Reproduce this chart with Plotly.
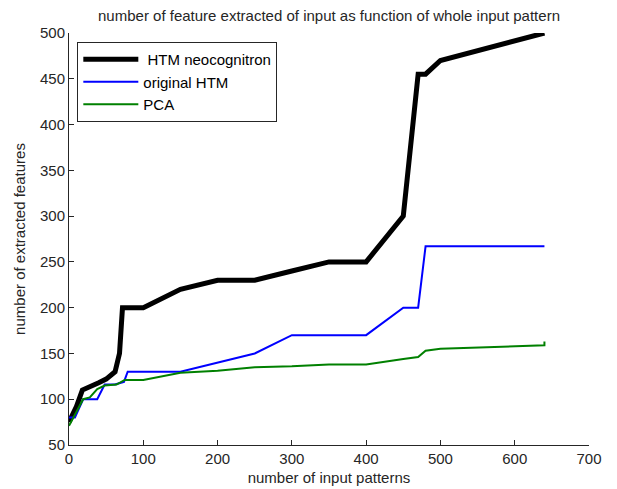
import plotly.graph_objects as go

htm_neo_x = [0, 10, 18, 28, 40, 50, 62, 68, 72, 100, 150, 200, 250, 300, 350, 400, 450, 470, 480, 500, 640]
htm_neo_y = [75, 92, 110, 113, 118, 122, 130, 150, 200, 200, 220, 230, 230, 240, 250, 250, 300, 455, 455, 470, 500]

orig_x = [0, 8, 19, 38, 48, 62, 74, 79, 150, 200, 250, 300, 400, 450, 470, 480, 640]
orig_y = [80, 80, 100, 100, 116, 116, 119, 130, 130, 140, 150, 170, 170, 200, 200, 267, 267]

pca_x = [0, 19, 28, 38, 48, 64, 75, 100, 150, 200, 250, 300, 350, 400, 450, 470, 480, 500, 640, 640]
pca_y = [71, 100, 102, 111, 115, 116, 121, 121, 129, 131, 135, 136, 138, 138, 144, 146, 153, 155, 159, 163]

x_ticks = [0, 100, 200, 300, 400, 500, 600, 700]
y_ticks = [50, 100, 150, 200, 250, 300, 350, 400, 450, 500]

font = "Liberation Sans, Arial, sans-serif"

fig = go.Figure()
fig.add_trace(go.Scatter(x=htm_neo_x, y=htm_neo_y, mode="lines", name=" HTM neocognitron",
                         line=dict(color="black", width=5)))
fig.add_trace(go.Scatter(x=orig_x, y=orig_y, mode="lines", name="original HTM",
                         line=dict(color="#0000ff", width=2)))
fig.add_trace(go.Scatter(x=pca_x, y=pca_y, mode="lines", name="PCA",
                         line=dict(color="#008000", width=2)))

fig.update_layout(
    width=609, height=481,
    margin=dict(l=61, r=28, t=25, b=44),
    paper_bgcolor="white", plot_bgcolor="white",
    font=dict(family=font, size=15, color="#262626"),
    title=dict(text="number of feature extracted of input as function of whole input pattern",
               x=0.5, xanchor="center", xref="paper", y=0.984, yanchor="middle",
               font=dict(size=15, color="#262626")),
    showlegend=True,
    legend=dict(x=0.016, y=0.978, xanchor="left", yanchor="top",
                bgcolor="white", bordercolor="#262626", borderwidth=1,
                font=dict(size=15, color="black"), tracegroupgap=0,
                itemwidth=55),
    xaxis=dict(range=[0, 700], tickvals=x_ticks, showgrid=False, zeroline=False,
               showline=True, linecolor="#262626", linewidth=1, automargin=False,
               ticks="inside", ticklen=5, tickcolor="#262626",
               title=dict(text="number of input patterns", standoff=6, font=dict(size=15))),
    yaxis=dict(range=[50, 500], tickvals=y_ticks, showgrid=False, zeroline=False,
               showline=True, linecolor="#262626", linewidth=1, automargin=False,
               ticks="inside", ticklen=5, tickcolor="#262626",
               title=dict(text="number of extracted features", standoff=10, font=dict(size=15))),
)

fig.write_html("out.html")
